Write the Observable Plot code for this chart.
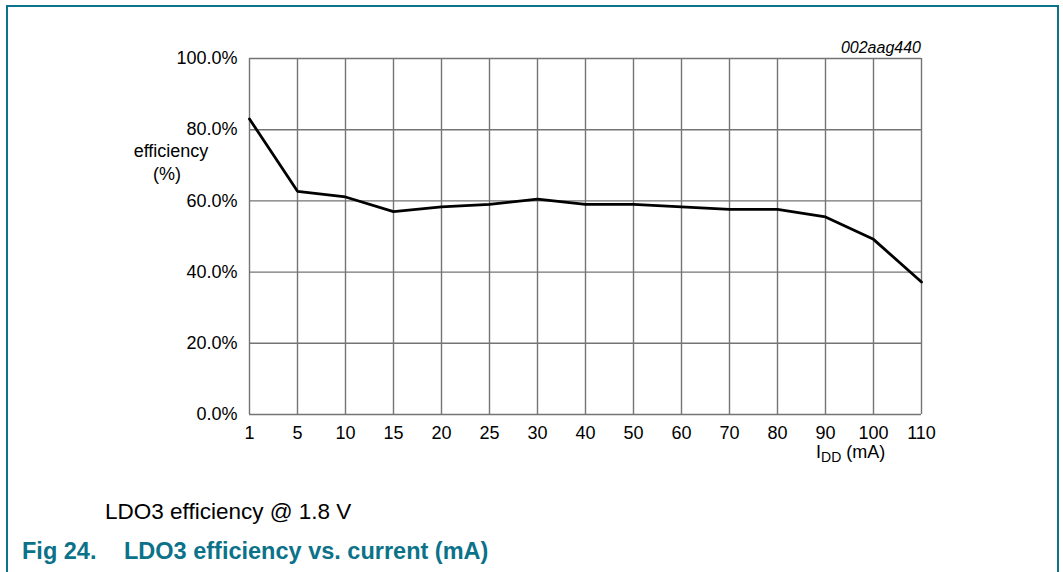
<!DOCTYPE html>
<html>
<head>
<meta charset="utf-8">
<script src="https://cdn.jsdelivr.net/npm/d3@7"></script>
<script src="https://cdn.jsdelivr.net/npm/@observablehq/plot@0.6"></script>
<style>
  html, body { margin: 0; padding: 0; background: #fff; }
  #chart { width: 1063px; height: 572px; }
  svg { font-family: "Liberation Sans", Arial, sans-serif; }
</style>
</head>
<body>
<div id="chart"></div>
<script>
// Data
const currents = ["1", "5", "10", "15", "20", "25", "30", "40", "50", "60", "70", "80", "90", "100", "110"];
const efficiency = [0.830, 0.627, 0.611, 0.570, 0.583, 0.590, 0.605, 0.590, 0.590, 0.583, 0.576, 0.576, 0.555, 0.492, 0.372];
const yTicks = [0, 0.2, 0.4, 0.6, 0.8, 1.0];

const figId = "002aag440";
const yLabel1 = "efficiency";
const yLabel2 = "(%)";
const captionText = "LDO3 efficiency @ 1.8 V";
const figNum = "Fig 24.";
const figTitle = "LDO3 efficiency vs. current (mA)";

const data = currents.map((c, i) => ({current: c, eff: efficiency[i]}));

const W = 1063, H = 572;
const teal = "#0b7289";
const gridColor = "#747474";

const plot = Plot.plot({
  width: W,
  height: H,
  marginLeft: 249,
  marginRight: 142,
  marginTop: 58,
  marginBottom: 158,
  style: {fontFamily: "'Liberation Sans', Arial, sans-serif", fontSize: "18px", color: "#000", background: "#fff"},
  x: {type: "point", domain: currents, padding: 0},
  y: {domain: [0, 1]},
  marks: [
    Plot.gridX(currents, {stroke: gridColor, strokeOpacity: 1, strokeWidth: 1.4}),
    Plot.gridY(yTicks, {stroke: gridColor, strokeOpacity: 1, strokeWidth: 1.4}),
    Plot.axisX(currents, {tickSize: 0, tickPadding: 12, label: null, fontSize: 18, fill: "#000"}),
    Plot.axisY(yTicks, {tickSize: 0, tickPadding: 12, label: null, tickFormat: d3.format(".1%"), fontSize: 18, fill: "#000"}),
    Plot.line(data, {x: "current", y: "eff", stroke: "#000", strokeWidth: 2.8, strokeLinejoin: "miter"})
  ]
});

document.getElementById("chart").appendChild(plot);

const svg = d3.select(plot);
const font = "'Liberation Sans', Arial, sans-serif";

// frame
svg.append("path")
  .attr("d", `M7,${H} V6 H1058 V${H}`)
  .attr("fill", "none").attr("stroke", teal).attr("stroke-width", 2);

const txt = (x, y, size, anchor) => svg.append("text")
  .attr("x", x).attr("y", y).attr("font-size", size)
  .attr("font-family", font).attr("text-anchor", anchor).attr("fill", "#000");

// figure id
txt(921, 53, 16, "end").attr("font-style", "italic").text(figId);

// y label
txt(171, 157, 18, "middle").text(yLabel1);
txt(167, 180, 18, "middle").text(yLabel2);

// x label I_DD (mA)
const xl = txt(816, 458, 18, "start");
xl.append("tspan").text("I");
xl.append("tspan").attr("font-size", 14).attr("dy", 4).text("DD");
xl.append("tspan").attr("dy", -4).text(" (mA)");

// caption
txt(105, 519, 22.5, "start").text(captionText);

// figure title
txt(22, 559, 23.5, "start").attr("font-weight", "bold").attr("fill", teal).text(figNum);
txt(124, 559, 23.5, "start").attr("font-weight", "bold").attr("fill", teal).text(figTitle);
</script>
</body>
</html>
